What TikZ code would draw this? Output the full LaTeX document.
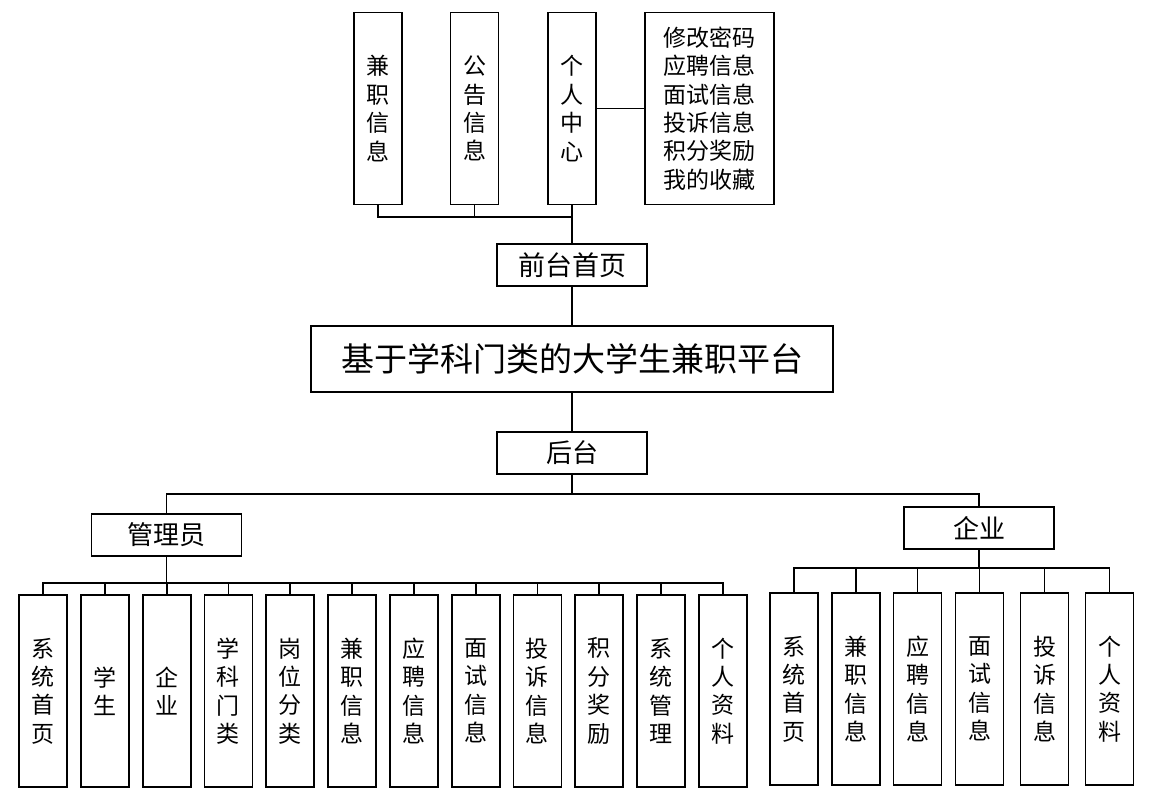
\documentclass[tikz,border=0pt]{standalone}
\usepackage{fontspec}
\newfontfamily\cjk{Noto Sans CJK SC}
\usetikzlibrary{positioning}

\tikzset{
  box/.style={draw, line width=1.8pt, inner sep=0pt, align=center,
    font=\cjk\fontsize{23}{28.4}\selectfont},
  vbox/.style={box, minimum width=48pt, minimum height=192pt},
  hbox/.style={box, minimum width=150pt, minimum height=42pt,
    font=\cjk\fontsize{26}{30}\selectfont},
}

\begin{document}
\begin{tikzpicture}[x=1pt, y=-1pt, line width=1.8pt]
\useasboundingbox (0,0) rectangle (1171,793);

% front end
\node[vbox] (jzxx) at (378,108.5) {兼\\职\\信\\息};
\node[vbox] (ggxx) at (474.5,108.5) {公\\告\\信\\息};
\node[vbox] (grzx) at (572,108.5) {个\\人\\中\\心};
\node[box, minimum width=129pt, minimum height=192pt] (grmenu) at (709.5,108.5)
  {修改密码\\应聘信息\\面试信息\\投诉信息\\积分奖励\\我的收藏};
\node[hbox, font=\cjk\fontsize{27}{30}\selectfont] (qtsy) at (572,265) {前台首页};
\coordinate (qbus) at (572,217);
\draw (grzx.east) -- (grmenu.west);
\draw (jzxx.south) |- (qbus);
\draw (ggxx.south) |- (qbus);
\draw (grzx.south) -- (qtsy.north);

% platform
\node[box, minimum width=522pt, minimum height=66pt,
  font=\cjk\fontsize{33}{36}\selectfont] (pt) at (572,359) {基于学科门类的大学生兼职平台};
\node[hbox] (ht) at (572,453) {后台};
\draw (qtsy.south) -- (pt.north);
\draw (pt.south) -- (ht.north);

% back end
\node[hbox] (gly) at (166.5,535) {管理员};
\node[hbox] (qy) at (979,528) {企业};
\coordinate (hbus) at (572,494);
\draw (ht.south) -- (hbus);
\draw (gly.north) |- (hbus) -| (qy.north);

\coordinate (abus) at (166.5,583);
\draw (gly.south) -- (abus);
\foreach \t [count=\i] in {{系\\统\\首\\页},{学\\生},{企\\业},{学\\科\\门\\类},
  {岗\\位\\分\\类},{兼\\职\\信\\息},{应\\聘\\信\\息},{面\\试\\信\\息},
  {投\\诉\\信\\息},{积\\分\\奖\\励},{系\\统\\管\\理},{个\\人\\资\\料}}
{
  \node[vbox] (a\i) at ({43+(\i-1)*61.8},691) {\t};
  \draw (a\i.north) |- (abus);
}

\coordinate (qbus2) at (979,568);
\draw (qy.south) -- (qbus2);
\foreach \t/\x [count=\i] in {{系\\统\\首\\页}/794,{兼\\职\\信\\息}/856,
  {应\\聘\\信\\息}/917.5,{面\\试\\信\\息}/979.5,{投\\诉\\信\\息}/1044.5,
  {个\\人\\资\\料}/1109.5}
{
  \node[vbox] (q\i) at (\x,689) {\t};
  \draw (q\i.north) |- (qbus2);
}
\end{tikzpicture}
\end{document}
